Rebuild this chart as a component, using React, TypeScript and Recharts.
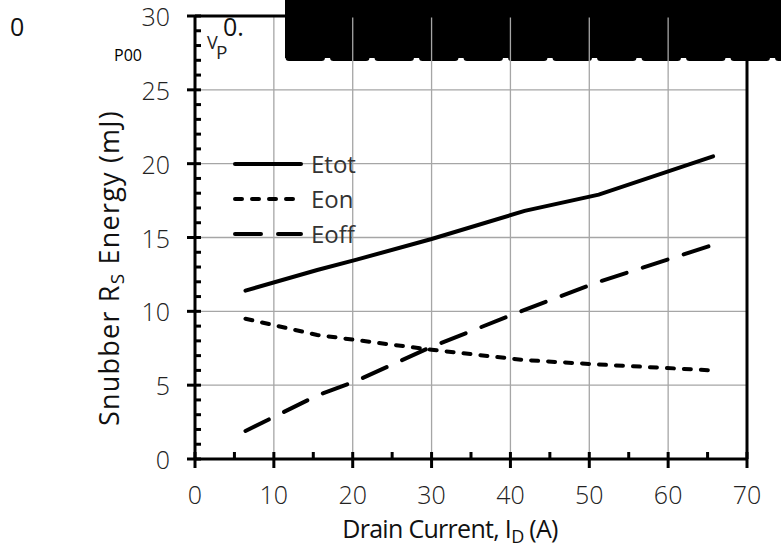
import React from 'react';
import { LineChart, Line, XAxis, YAxis, ReferenceLine, Legend, Customized } from 'recharts';

// drain current (A) at each measured point
const current = [6.4, 15.5, 20.5, 30, 41.8, 51.2, 65.7];
// snubber Rs energy (mJ)
const eTot = [11.4, 12.8, 13.5, 14.9, 16.8, 17.9, 20.5];
const eOn = [9.5, 8.4, 8.05, 7.4, 6.7, 6.4, 6.0];
const eOff = [1.9, 4.3, 5.3, 7.6, 10.1, 12.0, 14.5];

const xTicks = [0, 5, 10, 15, 20, 25, 30, 35, 40, 45, 50, 55, 60, 65, 70];
const yTicks = [0, 1, 2, 3, 4, 5, 6, 7, 8, 9, 10, 11, 12, 13, 14, 15, 16, 17, 18, 19, 20, 21, 22, 23, 24, 25, 26, 27, 28, 29, 30];
const xGrid = [10, 20, 30, 40, 50, 60];
const yGrid = [5, 10, 15, 20, 25];

const series = [
  { key: 'Etot', dash: undefined },
  { key: 'Eon', dash: '7 10' },
  { key: 'Eoff', dash: '26 17' },
];

const data = current.map((c, i) => ({ current: c, Etot: eTot[i], Eon: eOn[i], Eoff: eOff[i] }));

const FONT = "'Open Sans', 'DejaVu Sans', sans-serif";

const XTick = (props: any) => {
  const { x, y, payload } = props;
  const major = payload.value % 10 === 0;
  return (
    <g>
      <line x1={x} x2={x} y1={y - 7} y2={major ? y + 9 : y} stroke="#000" strokeWidth={3} />
      {major && (
        <text x={x} y={y + 45} textAnchor="middle" fontSize={25} fontWeight={300} fill="#222" fontFamily={FONT}>
          {payload.value}
        </text>
      )}
    </g>
  );
};

const YTick = (props: any) => {
  const { x, y, payload } = props;
  const major = payload.value % 5 === 0;
  return (
    <g>
      <line x1={major ? x - 8 : x} x2={x + 6} y1={y} y2={y} stroke="#000" strokeWidth={3} />
      {major && (
        <text x={170} y={y + 10} textAnchor="end" fontSize={25} fontWeight={300} fill="#222" fontFamily={FONT}>
          {payload.value}
        </text>
      )}
    </g>
  );
};

// white boxes from the original layout that hide part of the grid
const Masks = () => (
  <g>
    <rect x={207} y={29} width={424} height={119} fill="#fff" />
    <rect x={207} y={148} width={168} height={103} fill="#fff" />
  </g>
);

const Overlay = () => (
  <g fontFamily={FONT}>
    <text x={10} y={36} fontSize={25} fill="#111">0</text>
    <text x={114} y={61} fontSize={16} fill="#000">P00</text>
    <text x={223} y={36} fontSize={25} fill="#111">0.</text>
    <text x={207} y={49} fontSize={18} fill="#222">V</text>
    <text x={216} y={59} fontSize={19} fill="#222">P</text>
    <rect x={285} y={0} width={496} height={58} fill="#000" />
    <line x1={289} x2={785} y1={57.5} y2={57.5} stroke="#000" strokeWidth={7} strokeDasharray="32.5 12" strokeLinecap="round" />
    <text transform="rotate(-90, 119, 268)" x={119} y={268} textAnchor="middle" fontSize={27} fill="#111"
      letterSpacing={1.2}>
      Snubber R<tspan fontSize={19} dy={5}>S</tspan><tspan dy={-5}> Energy (mJ)</tspan>
    </text>
    <text x={450} y={538} textAnchor="middle" fontSize={25} fill="#111" letterSpacing={-0.7}>
      Drain Current, I<tspan fontSize={18} dy={5}>D</tspan><tspan dy={-5}> (A)</tspan>
    </text>
  </g>
);

const LegendContent = () => (
  <svg width={170} height={103}>
    {series.map((s, i) => (
      <g key={s.key}>
        <line x1={28} x2={94} y1={16 + i * 35} y2={16 + i * 35} stroke="#000" strokeWidth={4}
          strokeDasharray={s.dash} strokeLinecap="round" />
        <text x={104} y={25 + i * 35} fontSize={24} fill="#333" fontFamily={FONT}>{s.key}</text>
      </g>
    ))}
  </svg>
);

export default function App() {
  return (
    <div style={{ position: 'absolute', left: 0, top: 0, width: 781, height: 550, background: '#fff' }}>
      <LineChart width={781} height={550} data={data} margin={{ top: 16, right: 34, left: 0, bottom: 0 }}>
        {xGrid.map((v) => (
          <ReferenceLine key={'gx' + v} x={v} stroke="#a6a6a6" strokeWidth={1.3} />
        ))}
        {yGrid.map((v) => (
          <ReferenceLine key={'gy' + v} y={v} stroke="#a6a6a6" strokeWidth={1.3} />
        ))}
        <Customized component={<Masks />} />
        <XAxis dataKey="current" type="number" domain={[0, 70]} ticks={xTicks} interval={0} height={91}
          tick={<XTick />} tickLine={false} tickSize={0} tickMargin={0}
          axisLine={{ stroke: '#000', strokeWidth: 3 }} allowDataOverflow />
        <YAxis type="number" domain={[0, 30]} ticks={yTicks} interval={0} width={195}
          tick={<YTick />} tickLine={false} tickSize={0} tickMargin={0}
          axisLine={{ stroke: '#000', strokeWidth: 3 }} allowDataOverflow />
        <ReferenceLine x={70} stroke="#000" strokeWidth={3} />
        <ReferenceLine y={30} stroke="#000" strokeWidth={3} />
        {series.map((s) => (
          <Line key={s.key} type="linear" dataKey={s.key} stroke="#000" strokeWidth={4}
            strokeDasharray={s.dash} strokeLinecap="round" dot={false} isAnimationActive={false} />
        ))}
        <Legend layout="vertical" align="center" verticalAlign="middle" content={<LegendContent />}
          wrapperStyle={{ position: 'absolute', left: 207, top: 148, width: 170, height: 103 }} />
        <Customized component={<Overlay />} />
      </LineChart>
    </div>
  );
}
